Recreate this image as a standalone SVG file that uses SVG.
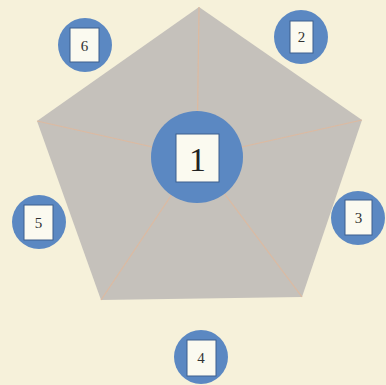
<svg xmlns="http://www.w3.org/2000/svg" width="386" height="385" viewBox="0 0 386 385">
<style>
.bg{fill:#f6f1da}
.pent{fill:#c5c1bb}
.spoke{stroke:#e2b89a;stroke-width:1.2;fill:none;opacity:0.8}
.circ{fill:#5b88c2}
.box{fill:#fbfaf0;stroke:#3d5f8e;stroke-width:1}
.lbl{font-family:"Liberation Serif",serif;fill:#333;text-anchor:middle}
.sm{font-size:15px}
.big{font-size:34px;fill:#222}
</style>
<rect class="bg" width="386" height="385"/>
<polygon class="pent" points="199,7 362,120 302,297 101,300 37,121"/>
<g id="connectors">
<line class="spoke" x1="197" y1="157" x2="199" y2="7"/>
<line class="spoke" x1="197" y1="157" x2="362" y2="120"/>
<line class="spoke" x1="197" y1="157" x2="302" y2="297"/>
<line class="spoke" x1="197" y1="157" x2="101" y2="300"/>
<line class="spoke" x1="197" y1="157" x2="37" y2="121"/>
</g>
<g id="n1">
<circle class="circ" cx="197" cy="157" r="46"/>
<rect class="box" x="176" y="134" width="43" height="48"/>
<text class="lbl big" x="197.5" y="171">1</text>
</g>
<g id="n2">
<circle class="circ" cx="301" cy="37" r="27"/>
<rect class="box" x="290" y="21" width="23" height="32"/>
<text class="lbl sm" x="301.5" y="42">2</text>
</g>
<g id="n3">
<circle class="circ" cx="358" cy="218" r="27"/>
<rect class="box" x="345" y="200" width="27" height="35"/>
<text class="lbl sm" x="358.5" y="223">3</text>
</g>
<g id="n4">
<circle class="circ" cx="201" cy="357" r="27"/>
<rect class="box" x="187" y="340" width="29" height="36"/>
<text class="lbl sm" x="201" y="363">4</text>
</g>
<g id="n5">
<circle class="circ" cx="39" cy="222" r="27"/>
<rect class="box" x="24" y="205" width="29" height="35"/>
<text class="lbl sm" x="38.5" y="228">5</text>
</g>
<g id="n6">
<circle class="circ" cx="85" cy="45" r="27"/>
<rect class="box" x="70" y="28" width="29" height="34"/>
<text class="lbl sm" x="84.5" y="51">6</text>
</g>
</svg>
